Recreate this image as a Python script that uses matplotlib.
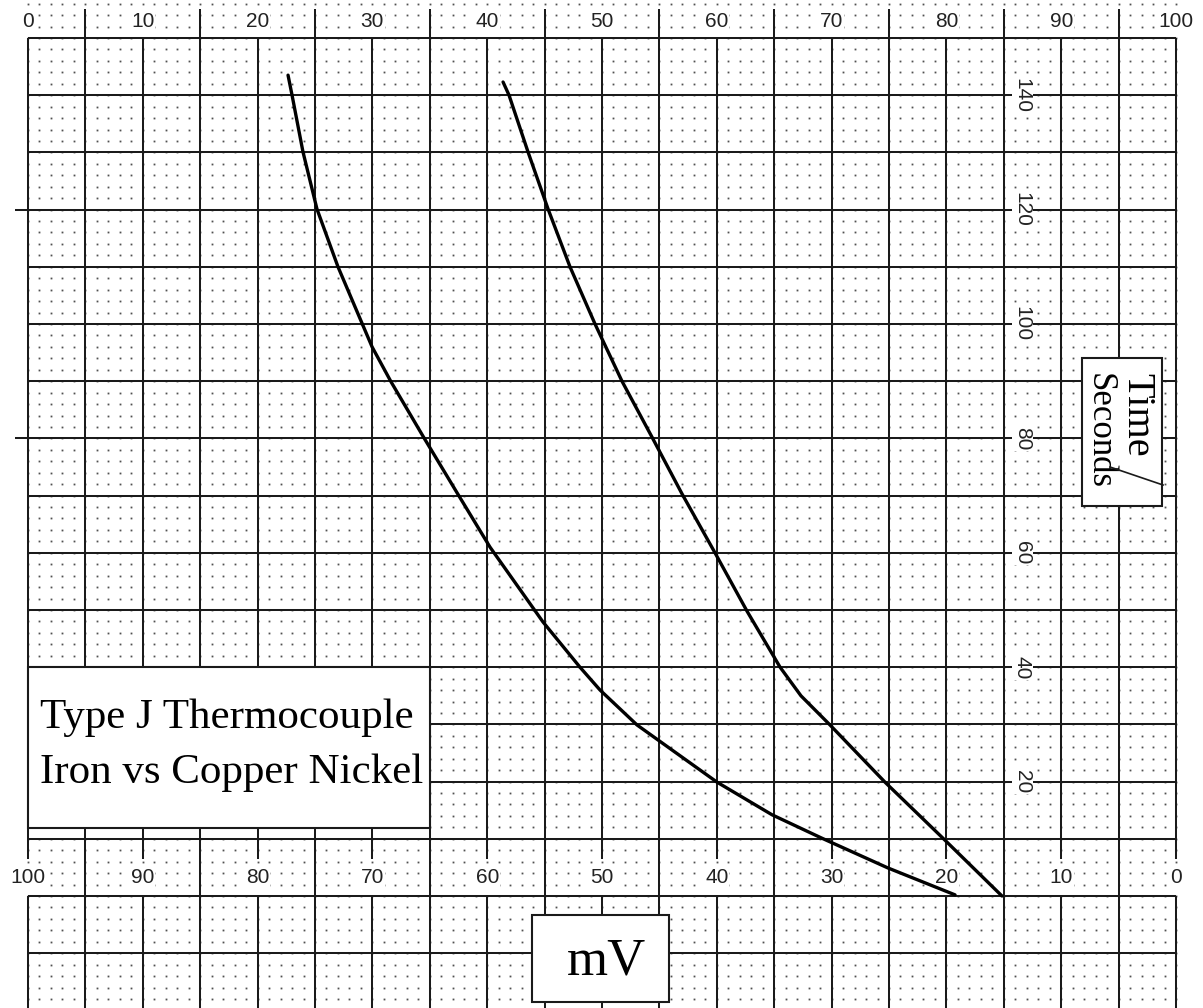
import numpy as np
import matplotlib
matplotlib.use("Agg")
import matplotlib.pyplot as plt
from matplotlib.patches import Rectangle

# ---------------- data ----------------
time_s_curve_a = [143.5, 140.0, 130.1, 120.1, 110.0, 96.0, 89.9, 80.1, 70.5, 61.0,
                  47.9, 40.0, 36.0, 29.9, 19.9, 14.2, 10.1, 4.9, 0.2]
mv_curve_a = [77.35, 77.00, 76.05, 74.83, 73.00, 70.03, 68.38, 65.51, 62.63, 59.76,
              55.14, 51.92, 50.17, 46.95, 39.98, 35.19, 30.84, 25.09, 19.25]

time_s_curve_b = [142.3, 140.0, 130.1, 120.1, 110.0, 100.0, 90.0, 80.2, 70.3, 60.0,
                  49.8, 40.0, 35.0, 29.9, 19.9, 10.1, 0.0]
mv_curve_b = [58.62, 58.10, 56.45, 54.70, 52.79, 50.61, 48.26, 45.64, 43.03, 40.16,
              37.37, 34.49, 32.67, 30.14, 25.35, 20.30, 15.16]

mv_tick_labels = [100, 90, 80, 70, 60, 50, 40, 30, 20, 10, 0]
top_tick_labels = [0, 10, 20, 30, 40, 50, 60, 70, 80, 90, 100]
time_tick_labels = [20, 40, 60, 80, 100, 120, 140]
title_lines = ["Type J Thermocouple", "Iron vs Copper Nickel"]
x_unit = "mV"
y_unit_top = "Time"
y_unit_bottom = "Seconds"

# ---------------- figure ----------------
W, H, DPI = 1203, 1008, 100
fig = plt.figure(figsize=(W / DPI, H / DPI), dpi=DPI)
ax = fig.add_axes([0, 0, 1, 1])
ax.set_xlim(102.44, -2.35)     # mV, reversed
ax.set_ylim(-19.58, 156.64)    # seconds
ax.axis("off")

LINE = "#1a1a1a"
DOT = "#505050"
glw = 1.45

# dot grid
mv_dots = np.arange(0, 101, 1)
t_dots = np.arange(-18, 157, 2)
MX, TY = np.meshgrid(mv_dots, t_dots)
ax.plot(MX.ravel(), TY.ravel(), ls="none", marker="s", ms=1.3, mec="none",
        mfc=DOT, zorder=1)

ybot = -19.58
# vertical grid lines every 5 mV
for mv in range(0, 101, 5):
    if mv % 10 == 0:
        ax.plot([mv, mv], [6.5, 150], color=LINE, lw=glw, zorder=2,
                solid_capstyle="butt")
        ax.plot([mv, mv], [ybot, 0], color=LINE, lw=glw, zorder=2,
                solid_capstyle="butt")
    else:
        ax.plot([mv, mv], [ybot, 155.0], color=LINE, lw=glw, zorder=2,
                solid_capstyle="butt")

# horizontal grid lines every 10 s
for t in range(-10, 151, 10):
    x0 = 101.1 if t in (80, 120) else 100
    ax.plot([x0, 0], [t, t], color=LINE, lw=glw, zorder=2, solid_capstyle="butt")

# curves
ax.plot(mv_curve_a, time_s_curve_a, color="black", lw=2.4, zorder=4,
        solid_capstyle="round", solid_joinstyle="round")
ax.plot(mv_curve_b, time_s_curve_b, color="black", lw=2.4, zorder=4,
        solid_capstyle="round", solid_joinstyle="round")

lab_font = dict(family="Liberation Sans", fontsize=15, color="#222222")
wb = dict(facecolor="white", edgecolor="none", pad=0.6)

# top scale labels (100 - mV)
for v in top_tick_labels:
    ax.text(100 - v, 152.9, str(v), ha="center", va="center", zorder=3,
            bbox=wb, **lab_font)

# bottom mV labels
for v in mv_tick_labels:
    ax.text(v, 3.2, str(v), ha="center", va="center", zorder=3,
            bbox=wb, **lab_font)

# time labels on the right (rotated)
for v in time_tick_labels:
    ax.text(13.4, v, str(v), ha="center", va="center", rotation=-90,
            zorder=3, bbox=wb, **lab_font)

serif = "Liberation Serif"

# title box
ax.add_patch(Rectangle((65, 11.9), 35, 28.1, facecolor="white",
                       edgecolor=LINE, lw=1.5, zorder=5))
ax.text(98.95, 29.4, title_lines[0], ha="left", va="baseline",
        family=serif, fontsize=31, zorder=6)
ax.text(98.95, 19.8, title_lines[1], ha="left", va="baseline",
        family=serif, fontsize=31, zorder=6)

# mV box
ax.add_patch(Rectangle((44.16, -18.5), 11.94, 15.2, facecolor="white",
                       edgecolor=LINE, lw=1.5, zorder=5))
ax.text(49.65, -13.8, x_unit, ha="center", va="baseline",
        family=serif, fontsize=38, zorder=6)

# Time / Seconds box
ax.add_patch(Rectangle((1.2, 68.2), 7.0, 25.9, facecolor="white",
                       edgecolor=LINE, lw=1.5, zorder=5))
ax.text(100 - (1137 - 28) / 11.48, 91.5, y_unit_top, rotation=-90,
        ha="center", va="top", family=serif, fontsize=29, zorder=6)
ax.text(100 - (1099 - 28) / 11.48, 91.5, y_unit_bottom, rotation=-90,
        ha="center", va="top", family=serif, fontsize=25, zorder=6)
ax.plot([5.75, 1.13], [75.0, 71.85], color=LINE, lw=1.2, zorder=6)

fig.savefig("out.png", dpi=DPI, facecolor="white")
